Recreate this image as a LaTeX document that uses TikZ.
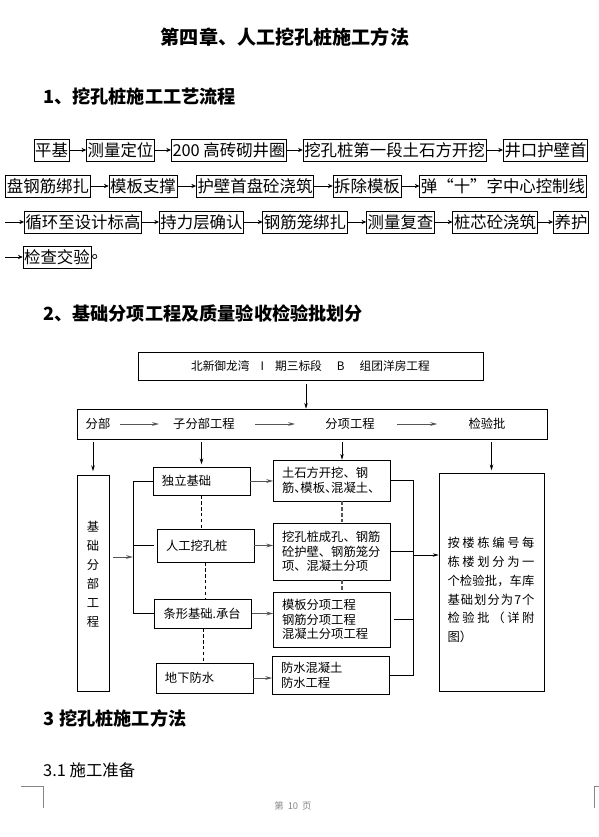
\documentclass[tikz,border=0pt]{standalone}
\usepackage{fontspec}
\setmainfont{Noto Sans CJK SC}
\usepackage{tikz}
\usetikzlibrary{arrows.meta,calc}
\definecolor{arrowgray}{RGB}{85,85,85}
\definecolor{pagegray}{RGB}{135,135,135}

\begin{document}
\begin{tikzpicture}[
  x=0.03cm, y=-0.03cm,
  flow/.style={draw, line width=0.6pt, font=\fontsize{14}{16}\selectfont,
    inner xsep=1pt, inner ysep=0pt, minimum height=0.66cm},
  farr/.style={-{Stealth[length=4pt,width=3.6pt]}, line width=0.6pt},
  box/.style={draw, line width=0.6pt, font=\fontsize{10.5}{12.3}\selectfont},
  lbox/.style={box, align=left, text width=2.37cm, inner xsep=0.27cm,
    inner ysep=0pt},
  rbox/.style={box, align=left, text width=3.0cm, inner xsep=0.25cm,
    inner ysep=0pt},
  lab/.style={font=\fontsize{10.5}{12.3}\selectfont, inner sep=0pt},
  garr/.style={-{Stealth[length=6pt,width=3.2pt]}, arrowgray, line width=0.8pt},
  darr/.style={-{Stealth[length=5pt,width=3pt]}, line width=0.5pt},
  dline/.style={dash pattern=on 3pt off 2pt, line width=0.5pt},
  head/.style={anchor=west, inner sep=0pt,
    font=\fontsize{15.5}{18}\selectfont\bfseries},
]
  \fill[white] (0,0) rectangle (599,837);
  \useasboundingbox (0,0) rectangle (599,837);

  % Headings
  \node[inner sep=0pt, font=\fontsize{16.3}{19}\selectfont\bfseries] (title)
    at (285,37) {第四章、人工挖孔桩施工方法};
  \node[head] (h1) at (43,97) {1、挖孔桩施工工艺流程};
  \node[head] (h2) at (43,314) {2、基础分项工程及质量验收检验批划分};
  \node[head] (h3) at (43,718) {3\hspace{0.15cm}挖孔桩施工方法};
  \node[anchor=west, inner sep=0pt, font=\fontsize{14}{16}\selectfont] (h31)
    at (43,770) {3.1 施工准备};

  % Process flow
  \node[flow] (pj) at (51.5,150) {平基};
  \node[flow] (cl) at (120.5,150) {测量定位};
  \node[flow] (jq) at (229,150) {200 高砖砌井圈};
  \node[flow] (wk1) at (394.5,150) {挖孔桩第一段土石方开挖};
  \node[flow] (jk) at (545.5,150) {井口护壁首};
  \node[flow] (gj) at (48,186) {盘钢筋绑扎};
  \node[flow] (mzc) at (143,186) {模板支撑};
  \node[flow] (hb) at (255,186) {护壁首盘砼浇筑};
  \node[flow] (cc) at (367,186) {拆除模板};
  \node[flow] (td) at (503,186) {弹“十”字中心控制线};
  \node[flow] (xh) at (83,222) {循环至设计标高};
  \node[flow] (cq) at (201.5,222) {持力层确认};
  \node[flow] (gl) at (305,222) {钢筋笼绑扎};
  \node[flow] (fc) at (400.5,222) {测量复查};
  \node[flow] (zx) at (495,222) {桩芯砼浇筑};
  \node[flow] (yh) at (571,222) {养护};
  \node[flow] (jy) at (57,257) {检查交验};
  \node[anchor=west, inner sep=0pt, font=\fontsize{14}{16}\selectfont] (jd)
    at (jy.east) {。};
  \coordinate (s3) at (5,222);
  \coordinate (s4) at (5,257);

  \draw[farr] (pj) -- (cl);
  \draw[farr] (cl) -- (jq);
  \draw[farr] (jq) -- (wk1);
  \draw[farr] (wk1) -- (jk);
  \draw[farr] (gj) -- (mzc);
  \draw[farr] (mzc) -- (hb);
  \draw[farr] (hb) -- (cc);
  \draw[farr] (cc) -- (td);
  \draw[farr] (s3) -- (xh);
  \draw[farr] (xh) -- (cq);
  \draw[farr] (cq) -- (gl);
  \draw[farr] (gl) -- (fc);
  \draw[farr] (fc) -- (zx);
  \draw[farr] (zx) -- (yh);
  \draw[farr] (s4) -- (jy);

  % Project and levels
  \node[box, minimum width=10.35cm, minimum height=0.84cm,
    font=\fontsize{10}{12}\selectfont] (top) at (310.5,366)
    {北新御龙湾\hspace{0.33cm}I\hspace{0.33cm}期三标段\hspace{0.45cm}B\hspace{0.45cm}组团洋房工程};
  \node[box, minimum width=14.1cm, minimum height=0.9cm] (wide) at (312,424) {};
  \node[lab] (fb) at (98,424) {分部};
  \node[lab] (zfb) at (204,424) {子分部工程};
  \node[lab] (fx) at (350,424) {分项工程};
  \node[lab] (jyb) at (487,424) {检验批};
  \draw[garr] ($(fb.east)+(9,0)$) -- ($(zfb.west)+(-14,0)$);
  \draw[garr] ($(zfb.east)+(20,0)$) -- ($(fx.west)+(-30,0)$);
  \draw[garr] ($(fx.east)+(22,0)$) -- ($(jyb.west)+(-31,0)$);
  \coordinate (ta) at (306,380);
  \draw[darr, shorten <=3pt] (ta) -- (ta |- wide.north);

  % Foundation column
  \node[box, minimum width=0.96cm, minimum height=6.48cm] (jc) at (93,583) {};
  \node[lab, align=center, font=\fontsize{10.5}{16.2}\selectfont] (jct)
    at (93,574) {基\\础\\分\\部\\工\\程};

  \node[lbox, minimum height=0.84cm] (dl) at (201.5,481) {独立基础};
  \node[lbox, minimum height=0.99cm] (rg) at (205.5,545.5) {人工挖孔桩};
  \node[lbox, minimum height=0.87cm] (tx) at (203,613.5) {条形基础.承台};
  \node[lbox, minimum height=0.9cm] (dx) at (204.5,678) {地下防水};

  \node[rbox, minimum height=1.23cm] (tsf) at (332,480.5)
    {土石方开挖、钢\\{\addfontfeature{RawFeature=+halt}筋、模板、混凝土、}};
  \node[rbox, minimum height=1.71cm] (wk) at (332,551.5)
    {挖孔桩成孔、钢筋\\砼护壁、钢筋笼分\\项、混凝土分项};
  \node[rbox, minimum height=1.65cm] (mb) at (332,619.5)
    {模板分项工程\\钢筋分项工程\\混凝土分项工程};
  \node[rbox, minimum height=1.14cm] (fs) at (331,675.5)
    {防水混凝土\\防水工程};

  \node[box, minimum width=3.15cm, minimum height=6.54cm] (jyp) at (491.5,582) {};
  \node[lab, align=left, font=\fontsize{10.5}{16}\selectfont] (jypt) at (491,590)
    {\makebox[2.61cm][s]{按\hfill 楼\hfill 栋\hfill 编\hfill 号\hfill 每}\\
     \makebox[2.61cm][s]{栋\hfill 楼\hfill 划\hfill 分\hfill 为\hfill 一}\\
     \makebox[2.61cm][s]{个\hfill 检\hfill 验\hfill 批\hfill ，\hfill 车\hfill 库}\\
     \makebox[2.61cm][s]{基\hfill 础\hfill 划\hfill 分\hfill 为\hfill 7\hfill 个}\\
     \makebox[2.61cm][s]{检\hfill 验\hfill 批\hfill （\hfill 详\hfill 附}\\
     \makebox[2.61cm][l]{图）}};

  % Down arrows
  \coordinate (tq) at ($(tsf.north)+(10,0)$);
  \draw[darr, shorten <=2pt, shorten >=3pt] (jc.north |- wide.south) -- (jc.north);
  \draw[darr, shorten <=2pt, shorten >=2pt] (dl.north |- wide.south) -- (dl.north);
  \draw[darr, shorten <=2pt] (tq |- wide.south) -- (tq);
  \draw[darr, shorten <=2pt, shorten >=2pt] (jyp.north |- wide.south) -- (jyp.north);

  % Left bracket
  \coordinate (lb) at (133,557);
  \draw[line width=0.6pt] (dl.west) -| (lb |- tx.west) -- (tx.west);
  \draw[line width=0.6pt] (lb |- rg.west) -- ($(rg.west)+(-3,0)$);
  \draw[garr, shorten <=3pt] (jc.east |- lb) -- (lb);

  % Dashed links
  \draw[dline] (dl.south) -- (dl.south |- rg.north);
  \draw[dline] (rg.south) -- (rg.south |- tx.north);
  \draw[dline] (tx.south) -- (tx.south |- dx.north);
  \draw[dline, arrowgray, line width=0.9pt] (tq |- tsf.south) -- (tq |- wk.north);
  \draw[dline, arrowgray, line width=0.9pt] (tq |- wk.south) -- (tq |- mb.north);

  % Sub-items
  \draw[garr] (dl.east) -- (dl.east -| tsf.west);
  \draw[garr] (rg.east) -- (rg.east -| wk.west);
  \draw[garr] (tx.east) -- (tx.east -| mb.west);
  \draw[garr] (dx.east) -- (dx.east -| fs.west);

  % Right bracket
  \coordinate (rb) at (413,555);
  \draw[line width=0.6pt] (tsf.east) -| (rb |- fs.east) -- (fs.east);
  \draw[line width=0.6pt] (wk.east) -- (wk.east -| rb);
  \draw[line width=0.6pt] ($(mb.east)+(3,0)$) -- (mb.east -| rb);
  \draw[darr] (rb) -- (rb -| jyp.west);

  % Page marks
  \draw[pagegray, line width=0.5pt] (21,786) -- (43,786) -- (43,808);
  \draw[pagegray, line width=0.5pt] (599,786) -- (594,786) -- (594,808);
  \node[font=\fontsize{8}{9}\selectfont, color=pagegray, inner sep=0pt] (pg)
    at (293,806) {第\hspace{0.12cm}10\hspace{0.12cm}页};
\end{tikzpicture}
\end{document}
